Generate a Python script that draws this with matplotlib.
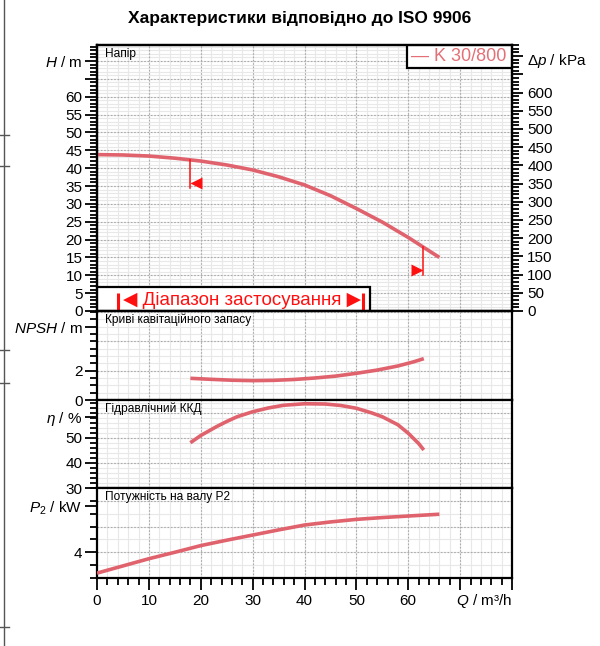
import matplotlib
matplotlib.use("Agg")
import matplotlib.pyplot as plt
import matplotlib.transforms as mtransforms
import numpy as np
from matplotlib.lines import Line2D
from matplotlib.patches import Rectangle
from matplotlib.ticker import FixedLocator, MultipleLocator

plt.rcParams["font.family"] = ["Liberation Sans", "DejaVu Sans"]
plt.rcParams["mathtext.fontset"] = "custom"
plt.rcParams["mathtext.rm"] = "Liberation Sans"
plt.rcParams["mathtext.it"] = "Liberation Sans:italic"
plt.rcParams["mathtext.bf"] = "Liberation Sans:bold"

# values
pump_name = "K 30/800"

q_head = [0, 5, 10, 15, 20, 25, 30, 35, 40, 45, 50, 55, 60, 63, 66]
head = [43.8, 43.7, 43.4, 42.8, 42.0, 40.9, 39.5, 37.6, 35.3, 32.3, 28.7, 24.9, 20.6, 17.8, 15.0]

q_npsh = [18, 22, 26, 30, 34, 38, 42, 46, 50, 54, 58, 61, 63]
npsh = [1.48, 1.41, 1.35, 1.32, 1.34, 1.40, 1.50, 1.63, 1.82, 2.04, 2.32, 2.60, 2.82]

q_eff = [18, 20, 23, 25, 27, 30, 33, 36, 40, 44, 47, 50, 53, 55, 58, 60, 62, 63]
eff = [48.1, 51.0, 54.5, 56.6, 58.5, 60.5, 62.0, 63.1, 63.7, 63.6, 63.0, 61.9, 60.0,
       58.5, 55.3, 51.9, 47.8, 45.2]

q_power = [0, 5, 10, 15, 20, 25, 30, 35, 40, 45, 50, 55, 60, 66]
power = [3.19, 3.47, 3.75, 4.0, 4.26, 4.47, 4.67, 4.87, 5.06, 5.18, 5.28, 5.35, 5.41, 5.48]

q_min, q_max = 18, 62.8     # min / max flow markers on the head curve
q_range = [4, 51.3]         # bars of the application range
x_labels = ["0", "10", "20", "30", "40", "50", "60", "", ""]

CURVE = "#e0626d"
RED = "#ff1010"
RHO_G = 9.80665  # kPa per metre of head

W, HPX = 600, 646
fig = plt.figure(figsize=(W / 100, HPX / 100), dpi=100)


def panel(top, bottom):
    return fig.add_axes([97 / W, 1 - bottom / HPX, (512 - 97) / W, (bottom - top) / HPX])


ax_h = panel(45, 311)
ax_n = panel(311, 400)
ax_e = panel(400, 488)
ax_p = panel(488, 578)


def style(ax, ylim, majors, labels, minor, fine, coarse):
    ax.set_xlim(0, 80)
    ax.set_ylim(*ylim)
    ax.yaxis.set_major_locator(FixedLocator(majors))
    ax.set_yticklabels(labels)
    ax.yaxis.set_minor_locator(MultipleLocator(minor))
    ax.tick_params(axis="y", which="major", direction="out", length=8.5, width=1.3,
                   labelsize=11, pad=2)
    ax.tick_params(axis="y", which="minor", direction="out", length=5, width=1.3)
    for s in ax.spines.values():
        s.set_linewidth(1.6)
    # grid: faint fine lines and dotted coarse lines
    for x in np.arange(2, 80, 2):
        ax.axvline(x, color="#e8e8e8", lw=0.8, zorder=0.4)
    for y in np.arange(ylim[0] + fine, ylim[1], fine):
        ax.axhline(y, color="#e8e8e8", lw=0.8, zorder=0.4)
    for x in np.arange(10, 80, 10):
        ax.axvline(x, color="#ababab", lw=0.8, ls=(0, (1.5, 1.5)), zorder=0.5)
    for y in np.arange(ylim[0] + coarse, ylim[1], coarse):
        ax.axhline(y, color="#ababab", lw=0.8, ls=(0, (1.5, 1.5)), zorder=0.5)


h_top = 74.5
style(ax_h, (0, h_top), list(range(0, 71, 5)),
      [str(v) for v in range(0, 61, 5)] + ["", "$H$ / m"], 1, 1, 5)
style(ax_n, (0, 6.07), [0, 2, 5], ["0", "2", "$NPSH$ / m"], 0.5, 0.5, 2)
style(ax_e, (30, 65.2), [30, 40, 50, 58.4], ["30", "40", "50", r"$\eta$ / %"], 2, 2, 10)
style(ax_p, (3, 6.5), [4, 5.8], ["4", "$P_2$ / kW"], 0.5, 0.5, 1)

for ax in (ax_h, ax_n, ax_e):
    ax.tick_params(axis="x", which="both", bottom=False, labelbottom=False)

ax_p.xaxis.set_major_locator(FixedLocator(range(0, 81, 10)))
ax_p.set_xticklabels(x_labels)
ax_p.xaxis.set_minor_locator(MultipleLocator(2))
ax_p.tick_params(axis="x", which="major", direction="out", length=8.5, width=1.3,
                 labelsize=11, pad=3)
ax_p.tick_params(axis="x", which="minor", direction="out", length=5, width=1.3)
fig.text(512 / W, 1 - 601 / HPX, "$Q$ / m³/h", ha="right", va="center", fontsize=11)

# curves
for ax, qs, vals in ((ax_h, q_head, head), (ax_n, q_npsh, npsh),
                     (ax_e, q_eff, eff), (ax_p, q_power, power)):
    ax.plot(qs, vals, color=CURVE, lw=2.6, zorder=3, solid_capstyle="butt",
            solid_joinstyle="round")

# min / max flow markers
for q, marker, side in ((q_min, "<", 1), (q_max, ">", -1)):
    h_at = np.interp(q, q_head, head)
    ax_h.plot([q, q], [h_at, h_at - 8], color=RED, lw=1.1, zorder=4)
    ax_h.plot(q + side * 1.15, h_at - 6.4, marker=marker, ms=9, color=RED,
              mec="none", zorder=4)

# application range box
ax_h.add_patch(Rectangle((0, 0), 52.6, 6.6, facecolor="white", edgecolor="black",
                         lw=1.6, zorder=5))
ax_h.text(27.9, 1.8, "◀ Діапазон застосування ▶", color=RED, fontsize=13.5,
          ha="center", va="baseline", zorder=6)
for q in q_range:
    ax_h.plot([q, q], [0.3, 5.0], color=RED, lw=2.2, zorder=6, solid_capstyle="butt")

# legend box
ax_h.add_patch(Rectangle((0.747, 0.9135), 0.253, 0.0865, transform=ax_h.transAxes,
                         facecolor="white", edgecolor="black", lw=1.6, zorder=7))
ax_h.text(0.872, 0.957, "— " + pump_name, transform=ax_h.transAxes, color="#e46f76",
          fontsize=13, ha="center", va="center", zorder=8)

# pressure axis on the right
ax_dp = ax_h.twinx()
ax_dp.set_ylim(0, h_top * RHO_G)
dp_major = list(range(0, 701, 50))
ax_dp.yaxis.set_major_locator(FixedLocator(dp_major))
ax_dp.set_yticklabels([str(v) if v <= 600 else "" for v in dp_major])
ax_dp.yaxis.set_minor_locator(MultipleLocator(10))
ax_dp.tick_params(axis="y", which="major", direction="out", length=8, width=1.3,
                  labelsize=11, pad=3)
ax_dp.tick_params(axis="y", which="minor", direction="out", length=5, width=1.3)
for s in ax_dp.spines.values():
    s.set_linewidth(1.6)
blend = mtransforms.blended_transform_factory(ax_h.transAxes, ax_h.transData)
ax_h.text(1.035, 70, "Δ$p$ / kPa", transform=blend, ha="left", va="center",
          fontsize=11, clip_on=False)

# panel captions
captions = [(ax_h, "Напір"), (ax_n, "Криві кавітаційного запасу"),
            (ax_e, "Гідравлічний ККД"), (ax_p, "Потужність на валу P2")]
for ax, txt in captions:
    ax.annotate(txt, xy=(0, 1), xycoords="axes fraction", xytext=(6, -2),
                textcoords="offset points", ha="left", va="top", fontsize=8.6, zorder=8)

fig.text(0.5, 1 - 18 / HPX, "Характеристики відповідно до ISO 9906", ha="center",
         va="center", fontsize=12.5, fontweight="bold")

# page edge line with small marks at the far left
fig.add_artist(Line2D([4 / W, 4 / W], [0, 1], transform=fig.transFigure,
                      color="#555555", lw=1))
for y in (135, 166, 350, 383, 627):
    fig.add_artist(Line2D([0, 9 / W], [1 - y / HPX] * 2, transform=fig.transFigure,
                          color="#555555", lw=1))

fig.savefig("out.png", dpi=100, facecolor="white")
